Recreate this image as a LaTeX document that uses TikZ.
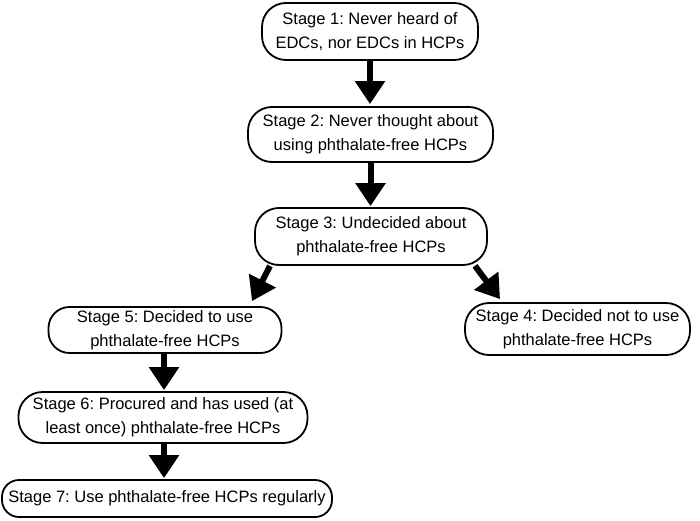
\documentclass[tikz,border=0pt]{standalone}
\usepackage{fontspec}
\setmainfont{Liberation Sans}
\frenchspacing
\usetikzlibrary{arrows.meta}
\tikzset{
  stagebox/.style={draw=black, line width=1.8pt, rounded corners=24pt, inner sep=0pt,
    align=center, font=\fontsize{16.5}{24}\selectfont},
  arr/.style={line width=6pt, -{Triangle[width=29pt,length=23pt]}}
}
\begin{document}
\begin{tikzpicture}[x=1pt,y=1pt]
\useasboundingbox (0,0) rectangle (700,520);
\node[stagebox, minimum width=216pt, minimum height=57pt] (b1) at (370,488.5) {Stage 1: Never heard of\\EDCs, nor EDCs in HCPs};
\node[stagebox, minimum width=245pt, minimum height=55pt] (b2) at (370.5,385.5) {Stage 2: Never thought about\\using phthalate-free HCPs};
\node[stagebox, minimum width=232pt, minimum height=57pt] (b3) at (371,283.5) {Stage 3: Undecided about\\phthalate-free HCPs};
\node[stagebox, minimum width=225pt, minimum height=52pt] (b4) at (577.5,191) {Stage 4: Decided not to use\\phthalate-free HCPs};
\node[stagebox, minimum width=233pt, minimum height=46pt, rounded corners=21pt] (b5) at (165,190) {Stage 5: Decided to use\\phthalate-free HCPs};
\node[stagebox, minimum width=289pt, minimum height=51pt] (b6) at (163,102.5) {Stage 6: Procured and has used (at\\least once) phthalate-free HCPs};
\node[stagebox, minimum width=330pt, minimum height=37pt, rounded corners=17pt] (b7) at (167,21.5) {Stage 7: Use phthalate-free HCPs regularly};
\draw[arr] (b1.south) -- ([yshift=2pt]b1.south |- b2.north);
\draw[arr] (b2.south) -- ([yshift=1pt]b2.south |- b3.north);
\draw[arr] ([xshift=-101pt]b3.south) -- ([xshift=87pt,yshift=5pt]b5.north);
\draw[arr] ([xshift=104pt]b3.south) -- ([xshift=-77.5pt,yshift=3pt]b4.north);
\draw[arr] ([xshift=-1pt]b5.south) -- ([xshift=-1pt,yshift=1pt]b5.south |- b6.north);
\draw[arr] ([xshift=1pt]b6.south) -- ([xshift=1pt,yshift=1pt]b6.south |- b7.north);
\end{tikzpicture}
\end{document}
